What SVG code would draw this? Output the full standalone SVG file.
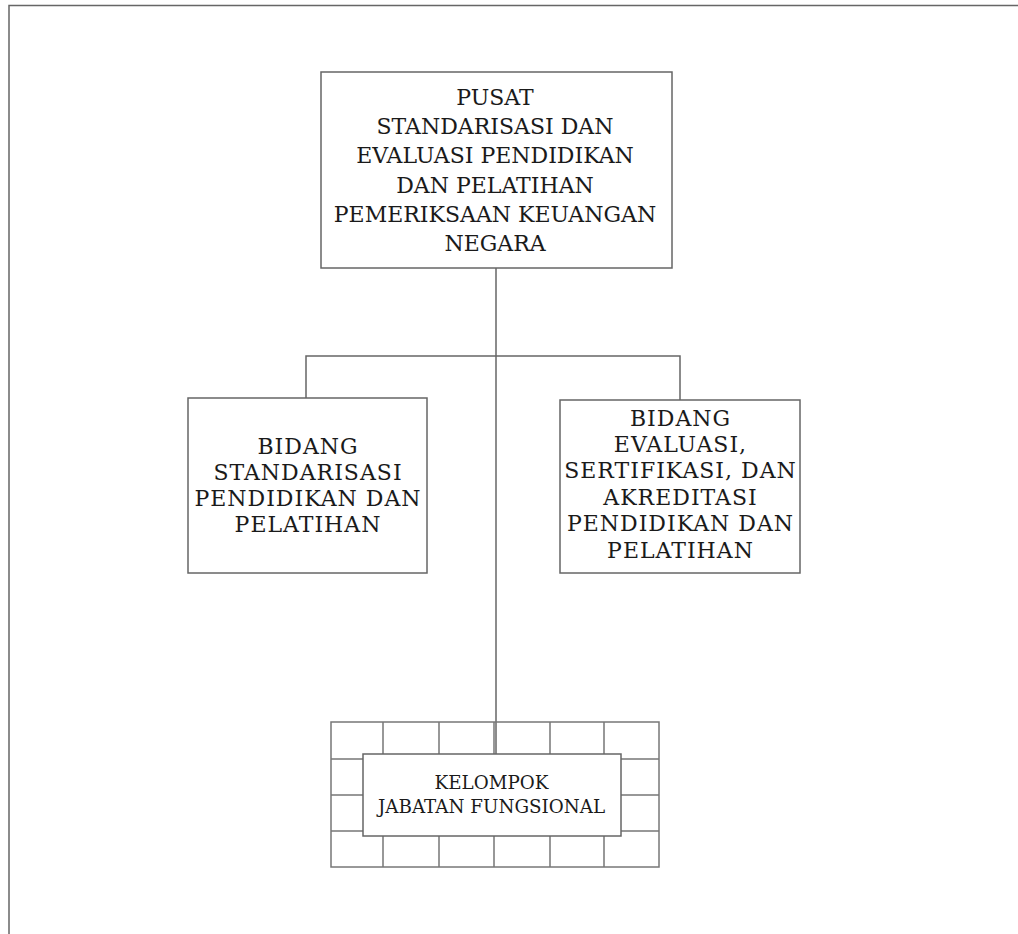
<svg xmlns="http://www.w3.org/2000/svg" width="1018" height="934" viewBox="0 0 1018 934">
<style>
.box{fill:#fff;stroke:#666;stroke-width:1.5}
.ln{fill:none;stroke:#666;stroke-width:1.5}
.grid{fill:none;stroke:#777;stroke-width:1.5}
.t{font-family:"DejaVu Serif","Liberation Serif",serif;font-size:22px;fill:#1a1a1a;text-anchor:middle}
.b{letter-spacing:1px}
.s{font-family:"DejaVu Serif","Liberation Serif",serif;font-size:18.3px;fill:#1a1a1a;text-anchor:middle}
</style>
<rect width="1018" height="934" fill="#fff"/>
<path class="ln" d="M9 934V5.5H1018" stroke="#555"/>
<g id="connectors">
<path class="ln" d="M496 268V754"/>
<path class="ln" d="M306 398V356H680V400"/>
</g>
<g id="pusat">
<rect class="box" x="321" y="72" width="351" height="196"/>
<text class="t" x="495" y="105">PUSAT</text>
<text class="t" x="495" y="134">STANDARISASI DAN</text>
<text class="t" x="495" y="163">EVALUASI PENDIDIKAN</text>
<text class="t" x="495" y="193">DAN PELATIHAN</text>
<text class="t" x="495" y="222">PEMERIKSAAN KEUANGAN</text>
<text class="t" x="495" y="251">NEGARA</text>
</g>
<g id="bidang-standarisasi">
<rect class="box" x="188" y="398" width="239" height="175"/>
<text class="t b" x="308" y="454">BIDANG</text>
<text class="t b" x="308" y="480">STANDARISASI</text>
<text class="t b" x="308" y="506">PENDIDIKAN DAN</text>
<text class="t b" x="308" y="532">PELATIHAN</text>
</g>
<g id="bidang-evaluasi">
<rect class="box" x="560" y="400" width="240" height="173"/>
<text class="t b" x="680.5" y="426">BIDANG</text>
<text class="t b" x="680.5" y="452">EVALUASI,</text>
<text class="t b" x="680.5" y="478">SERTIFIKASI, DAN</text>
<text class="t b" x="680.5" y="505">AKREDITASI</text>
<text class="t b" x="680.5" y="531">PENDIDIKAN DAN</text>
<text class="t b" x="680.5" y="558">PELATIHAN</text>
</g>
<g id="kelompok-jabatan-fungsional">
<rect class="grid" x="331" y="722" width="328" height="145"/>
<path class="grid" d="M383 722V867M439 722V867M494 722V867M550 722V867M604 722V867M331 759H659M331 795H659M331 831H659"/>
<rect class="box" x="363" y="754" width="258" height="82"/>
<text class="s" x="491.5" y="789">KELOMPOK</text>
<text class="s" x="491.5" y="813">JABATAN FUNGSIONAL</text>
</g>
</svg>
